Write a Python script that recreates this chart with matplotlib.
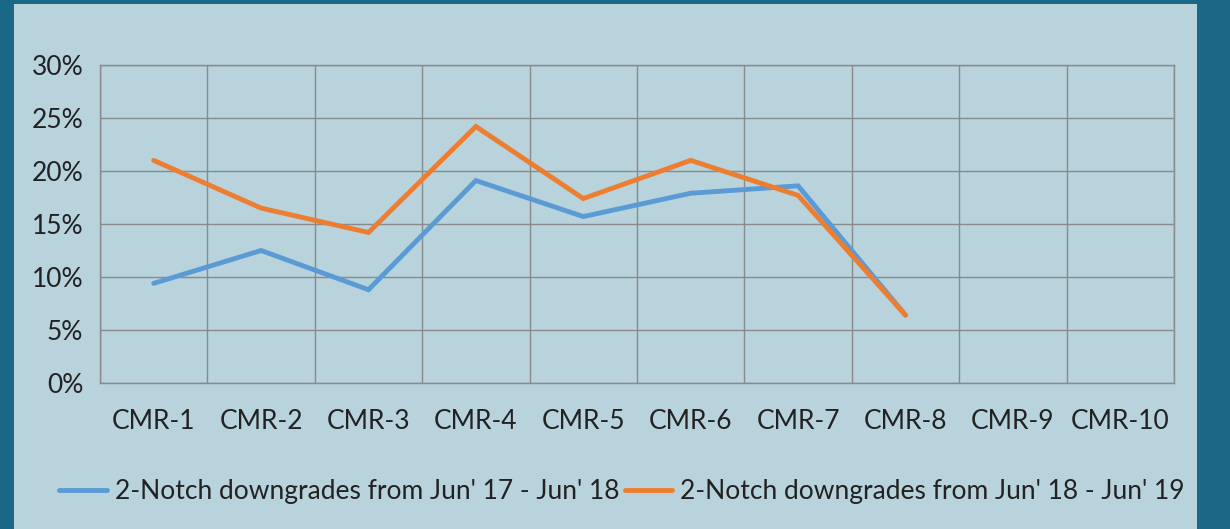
import matplotlib
matplotlib.use("Agg")
import matplotlib.pyplot as plt
from matplotlib.patches import Rectangle
from matplotlib.ticker import PercentFormatter

categories = ['CMR-1', 'CMR-2', 'CMR-3', 'CMR-4', 'CMR-5',
              'CMR-6', 'CMR-7', 'CMR-8', 'CMR-9', 'CMR-10']
jun17_18 = [9.4, 12.5, 8.8, 19.1, 15.7, 17.9, 18.6, 6.4]
jun18_19 = [21.0, 16.5, 14.2, 24.2, 17.4, 21.0, 17.7, 6.4]
label_a = "2-Notch downgrades from Jun' 17 - Jun' 18"
label_b = "2-Notch downgrades from Jun' 18 - Jun' 19"

BORDER = '#1b6886'
PANEL = '#b8d3dc'
GRID = '#8a8a8a'

plt.rcParams['font.family'] = ['Lato', 'DejaVu Sans']

W, H = 1230, 529
fig = plt.figure(figsize=(W / 100, H / 100), dpi=100, facecolor=BORDER)
fig.patches.append(Rectangle((14 / W, 0), (1197 - 14) / W, (H - 4) / H,
                             transform=fig.transFigure, facecolor=PANEL,
                             edgecolor='none', zorder=-5))

ax = fig.add_axes([100 / W, 1 - 383 / H, (1174 - 100) / W, (383 - 65) / H])
ax.set_zorder(2)
ax.set_facecolor(PANEL)

xs = range(len(jun17_18))
ax.plot(xs, jun17_18, color='#5b9bd5', lw=3.5, solid_capstyle='round',
        solid_joinstyle='miter', label=label_a, zorder=3)
ax.plot(xs, jun18_19, color='#ed7d31', lw=3.5, solid_capstyle='round',
        solid_joinstyle='miter', label=label_b, zorder=4)

ax.set_xlim(-0.5, len(categories) - 0.5)
ax.set_ylim(0, 30)
ax.set_yticks(range(0, 31, 5))
ax.yaxis.set_major_formatter(PercentFormatter(decimals=0))
ax.set_xticks(range(len(categories)))
ax.set_xticklabels(categories)
ax.set_xticks([i - 0.5 for i in range(len(categories) + 1)], minor=True)

ax.grid(True, which='major', axis='y', color=GRID, lw=1)
ax.grid(True, which='minor', axis='x', color=GRID, lw=1)
ax.set_axisbelow(True)
for s in ax.spines.values():
    s.set_color(GRID)
    s.set_linewidth(1)

ax.tick_params(axis='both', which='both', length=0, colors='#222222',
               labelsize=19)
ax.tick_params(axis='y', pad=12)
ax.tick_params(axis='x', pad=19)

leg = fig.legend(loc='center', bbox_to_anchor=(622 / W, 1 - 492 / H), ncol=2,
                 frameon=False, fontsize=19, handlelength=1.8,
                 handletextpad=0.3, columnspacing=0.2, labelcolor='#222222')
leg.set_zorder(3)

fig.savefig('out.png', dpi=100, facecolor=BORDER)
